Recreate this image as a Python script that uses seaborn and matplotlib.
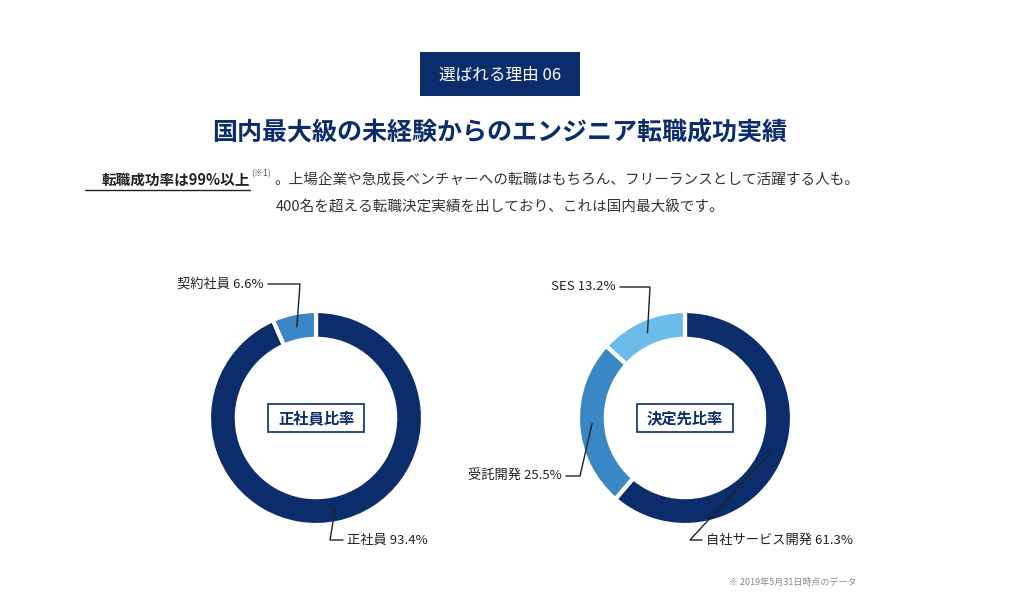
import numpy as np
import matplotlib
matplotlib.use("Agg")
import matplotlib.pyplot as plt
import seaborn as sns
from matplotlib.patches import Rectangle

sns.set_theme(style="white", font="Noto Sans CJK JP")

# data
left_labels = ["正社員", "契約社員"]
left_values = [93.4, 6.6]
right_labels = ["自社サービス開発", "受託開発", "SES"]
right_values = [61.3, 25.5, 13.2]

NAVY = "#0b2d6b"
MID = "#3a87c5"
LIGHT = "#6cbcea"
W, H = 1024, 614

fig = plt.figure(figsize=(W / 100, H / 100), dpi=100)
fig.patch.set_facecolor("white")


def px(x, y):
    return x / W, 1 - y / H


# header badge
bx, by = px(420, 96)
fig.patches.append(Rectangle((bx, by), 160 / W, 44 / H, transform=fig.transFigure,
                             facecolor=NAVY, edgecolor="none"))
fig.text(*px(500, 75), "選ばれる理由 06", color="white", fontsize=12, ha="center", va="center")
fig.text(*px(500, 133), "国内最大級の未経験からのエンジニア転職成功実績", color=NAVY,
         fontsize=18, fontweight="bold", ha="center", va="center")

fig.text(*px(250, 180), "転職成功率は99%以上", color="#222", fontsize=10.5,
         fontweight="bold", ha="right", va="center")
fig.add_artist(plt.Line2D([85 / W, 250 / W], [1 - 190 / H] * 2, color="#222", lw=1,
                          transform=fig.transFigure))
fig.text(*px(251, 174), "(※1)", color="#555", fontsize=6.5, ha="left", va="center")
fig.text(*px(274, 180), "。上場企業や急成長ベンチャーへの転職はもちろん、フリーランスとして活躍する人も。",
         color="#333", fontsize=10.5, ha="left", va="center")
fig.text(*px(500, 207), "400名を超える転職決定実績を出しており、これは国内最大級です。",
         color="#333", fontsize=10.5, ha="center", va="center")


def donut(cx, cy, values, labels, colors, title, label_pos):
    r = 107
    ax = fig.add_axes([(cx - r) / W, 1 - (cy + r) / H, 2 * r / W, 2 * r / H])
    wedges, _ = ax.pie(values, colors=colors, startangle=90, counterclock=False,
                       wedgeprops=dict(width=0.26, edgecolor="white", linewidth=3))
    ax.set_xlim(-1, 1)
    ax.set_ylim(-1, 1)
    ax.set_aspect("equal")
    ax.axis("off")
    # center box
    bx0, by0 = px(cx - 48, cy + 14)
    fig.patches.append(Rectangle((bx0, by0), 96 / W, 28 / H, transform=fig.transFigure,
                                 facecolor="white", edgecolor=NAVY, lw=1.2))
    fig.text(*px(cx, cy), title, color=NAVY, fontsize=11, fontweight="bold",
             ha="center", va="center")
    # labels with leader lines
    for w, lab, val, (lx, ly, elbow, ha) in zip(wedges, labels, values, label_pos):
        ang = np.deg2rad((w.theta1 + w.theta2) / 2)
        sx, sy = cx + 0.87 * r * np.cos(ang), cy - 0.87 * r * np.sin(ang)
        xs = [sx / W, elbow / W, lx / W]
        ys = [1 - sy / H, 1 - ly / H, 1 - ly / H]
        fig.add_artist(plt.Line2D(xs, ys, color="#222", lw=1, transform=fig.transFigure))
        tx = lx + (4 if ha == "left" else -4)
        fig.text(tx / W, 1 - ly / H, f"{lab} {val}%", color="#222", fontsize=9.5,
                 ha=ha, va="center")


donut(316, 418, left_values, left_labels, [NAVY, MID], "正社員比率",
      [(343, 540, 330, "left"), (268, 284, 300, "right")])
donut(685, 418, right_values, right_labels, [NAVY, MID, LIGHT], "決定先比率",
      [(702, 540, 690, "left"), (566, 476, 580, "right"), (620, 287, 650, "right")])

fig.text(*px(856, 582), "※ 2019年5月31日時点のデータ", color="#888", fontsize=6.5,
         ha="right", va="center")

fig.savefig("out.png", dpi=100, facecolor="white")
